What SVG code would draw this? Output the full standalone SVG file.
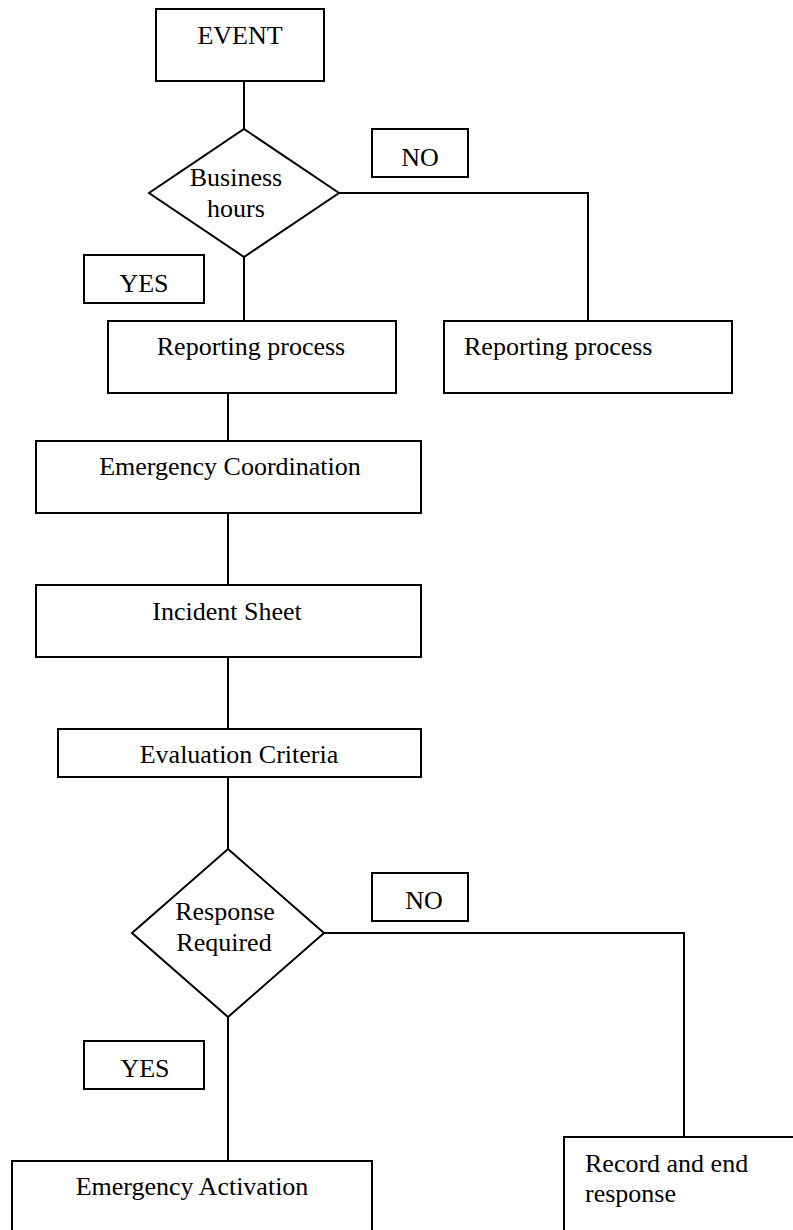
<svg xmlns="http://www.w3.org/2000/svg" width="793" height="1230" viewBox="0 0 793 1230">
<style>
.box{fill:#fff;stroke:#000;stroke-width:2}
.ln{fill:none;stroke:#000;stroke-width:2}
text{font-family:"Liberation Serif","Times New Roman",serif;font-size:26px;fill:#000}
.c{text-anchor:middle}
</style>
<rect width="793" height="1230" fill="#fff"/>
<g id="connectors">
<path class="ln" d="M244 81V129"/>
<path class="ln" d="M339 193H588V321"/>
<path class="ln" d="M244 248V321"/>
<path class="ln" d="M228 393V441"/>
<path class="ln" d="M228 513V585"/>
<path class="ln" d="M228 657V729"/>
<path class="ln" d="M228 777V849"/>
<path class="ln" d="M324 933H684V1137"/>
<path class="ln" d="M228 1017V1161"/>
</g>
<g id="event"><rect class="box" x="156" y="9" width="168" height="72"/><text class="c" x="240" y="44">EVENT</text></g>
<g id="business-hours"><polygon class="box" points="244,129 339,193 244,257 149,193"/><text class="c" x="236" y="186">Business</text><text class="c" x="236" y="217">hours</text></g>
<g id="no1"><rect class="box" x="372" y="129" width="96" height="48"/><text class="c" x="420" y="166">NO</text></g>
<g id="yes1"><rect class="box" x="84" y="255" width="120" height="48"/><text class="c" x="144" y="292">YES</text></g>
<g id="reporting-left"><rect class="box" x="108" y="321" width="288" height="72"/><text class="c" x="251" y="355">Reporting process</text></g>
<g id="reporting-right"><rect class="box" x="444" y="321" width="288" height="72"/><text x="464" y="355">Reporting process</text></g>
<g id="emergency-coordination"><rect class="box" x="36" y="441" width="385" height="72"/><text class="c" x="230" y="475">Emergency Coordination</text></g>
<g id="incident-sheet"><rect class="box" x="36" y="585" width="385" height="72"/><text class="c" x="227" y="620">Incident Sheet</text></g>
<g id="evaluation-criteria"><rect class="box" x="58" y="729" width="363" height="48"/><text class="c" x="239" y="763">Evaluation Criteria</text></g>
<g id="response-required"><polygon class="box" points="228,849 324,933 228,1017 132,933"/><text class="c" x="225" y="920">Response</text><text class="c" x="224" y="951">Required</text></g>
<g id="no2"><rect class="box" x="372" y="873" width="96" height="48"/><text class="c" x="424" y="909">NO</text></g>
<g id="yes2"><rect class="box" x="84" y="1041" width="120" height="48"/><text class="c" x="145" y="1077">YES</text></g>
<g id="emergency-activation"><rect class="box" x="12" y="1161" width="360" height="90"/><text class="c" x="192" y="1195">Emergency Activation</text></g>
<g id="record-end"><rect class="box" x="564" y="1137" width="240" height="110"/><text x="585" y="1172">Record and end</text><text x="585" y="1202">response</text></g>
</svg>
